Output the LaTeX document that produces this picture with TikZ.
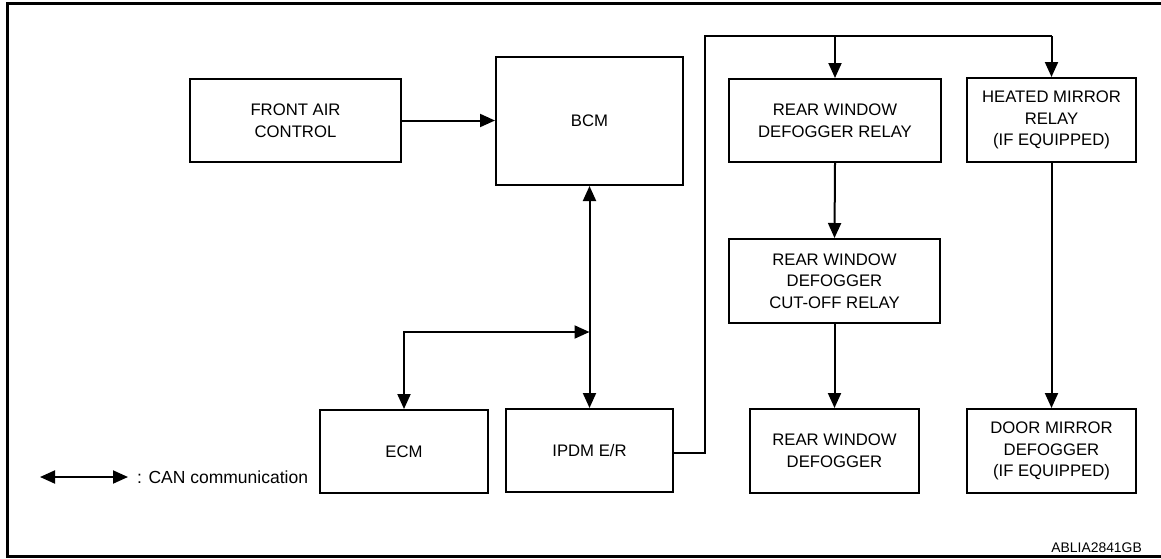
\documentclass[tikz,border=0pt]{standalone}
\usepackage{fontspec}
\setmainfont{Liberation Sans}
\usetikzlibrary{arrows.meta}
\begin{document}
\begin{tikzpicture}[x=1pt,y=-1pt,
  blk/.style={draw,line width=2pt,align=center,inner sep=0pt,
    font=\fontsize{16.7}{21.6}\selectfont},
  conn/.style={line width=2pt,-{Triangle[length=15pt,width=13pt]}},
  bconn/.style={line width=2pt,{Triangle[length=15pt,width=13pt]}-{Triangle[length=15pt,width=13pt]}},
  wire/.style={line width=2pt}]
\useasboundingbox (0,0) rectangle (1161,558);
\draw[line width=3pt] (1161,3.5) -- (7,3.5) -- (7,556.5) -- (1161,556.5);
% boxes
\node[blk,minimum width=211pt,minimum height=83pt] (fac) at (295.5,120.5) {FRONT AIR\\CONTROL};
\node[blk,minimum width=187pt,minimum height=128pt] (bcm) at (589.5,121) {BCM};
\node[blk,minimum width=212pt,minimum height=83pt] (rwdr) at (835,120.5) {REAR WINDOW\\DEFOGGER RELAY};
\node[blk,minimum width=169pt,minimum height=84pt] (hmr) at (1051.5,120) {HEATED MIRROR\\RELAY\\(IF EQUIPPED)};
\node[blk,minimum width=211pt,minimum height=84pt] (cut) at (834.5,281) {REAR WINDOW\\DEFOGGER\\CUT-OFF RELAY};
\node[blk,minimum width=168pt,minimum height=83pt] (ecm) at (404,451.5) {ECM};
\node[blk,minimum width=167pt,minimum height=83pt] (ipdm) at (589.5,450.5) {IPDM E/R};
\node[blk,minimum width=169pt,minimum height=84pt] (rwd) at (834.5,451) {REAR WINDOW\\DEFOGGER};
\node[blk,minimum width=169pt,minimum height=84pt] (dmd) at (1051.5,451) {DOOR MIRROR\\DEFOGGER\\(IF EQUIPPED)};
% connectors
\draw[conn] (fac.east) -- (bcm.west |- fac.east);
\draw[bconn] (bcm.south) -- (ipdm.north);
\coordinate (jn) at (589.5,332);
\draw[bconn] (jn) -| (ecm.north);
\coordinate (p1) at (705,453);
\coordinate (p2) at (705,36);
\coordinate (p3) at (835,36);
\coordinate (p4) at (1051.5,36);
\draw[wire] (ipdm.east |- p1) -- (p1) -- (p2) -- (p4);
\draw[conn] (p3) -- (rwdr.north);
\draw[conn] (p4) -- (hmr.north);
\draw[conn] (rwdr.south) -- (cut.north);
\draw[conn] (cut.south) -- (rwd.north);
\draw[conn] (hmr.south) -- (dmd.north);
% legend
\coordinate (la) at (40,477);
\coordinate (lb) at (128,477);
\draw[bconn] (la) -- (lb);
\node[anchor=west,inner sep=0pt,font=\fontsize{17.5}{21}\selectfont] (lt) at (137,477) {: CAN communication};
\node[anchor=south east,inner sep=0pt,font=\fontsize{13.9}{16}\selectfont] (code) at (1142,553) {ABLIA2841GB};
\end{tikzpicture}
\end{document}
